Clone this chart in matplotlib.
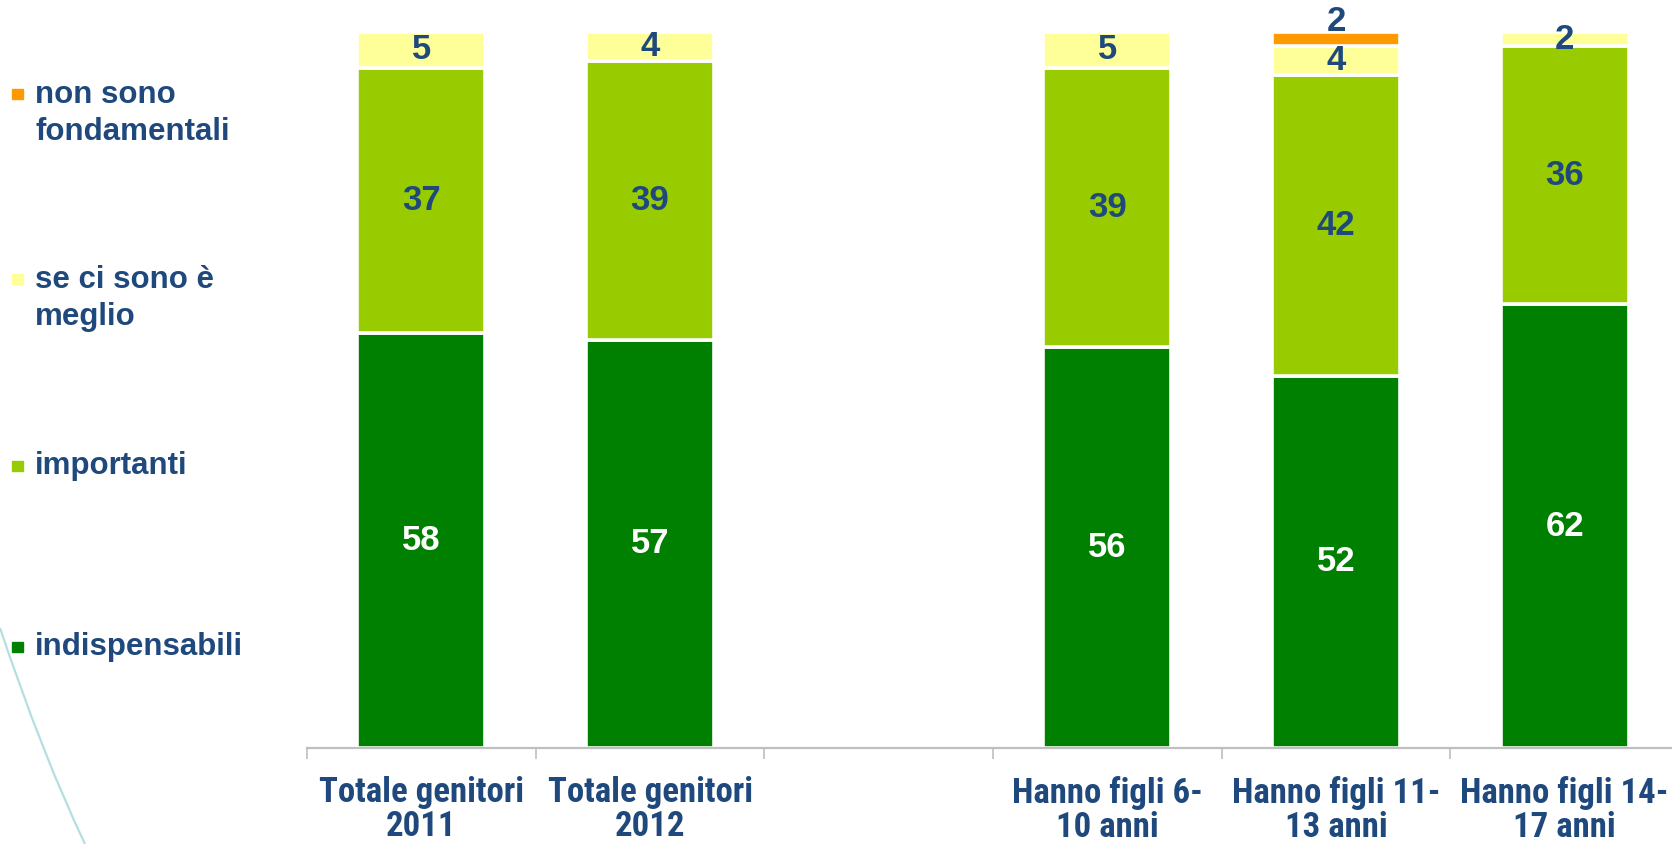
import numpy as np
import matplotlib
matplotlib.use("Agg")
import matplotlib.pyplot as plt
from matplotlib import font_manager
from matplotlib.patches import Rectangle, PathPatch
from matplotlib.path import Path

# categories (the blank entry is the gap between the two groups)
categories = ["Totale genitori\n2011", "Totale genitori\n2012", "",
              "Hanno figli 6-\n10 anni", "Hanno figli 11-\n13 anni", "Hanno figli 14-\n17 anni"]
indispensabili = [58, 57, None, 56, 52, 62]
importanti = [37, 39, None, 39, 42, 36]
meglio = [5, 4, None, 5, 4, 2]
non_fondamentali = [None, None, None, None, 2, None]

series_names = ["indispensabili", "importanti", "se ci sono è\nmeglio", "non sono\nfondamentali"]
series_values = [indispensabili, importanti, meglio, non_fondamentali]
series_colors = ["#008000", "#99CC00", "#FFFF99", "#FF9900"]
label_colors = ["white", "#1F497D", "#1F497D", "#1F497D"]

TEXT = "#1F497D"
W, H = 1672, 844

installed = {f.name for f in font_manager.fontManager.ttflist}
narrow = next((n for n in ["Liberation Sans Narrow", "Arial Narrow", "Roboto Condensed",
                           "PT Sans Narrow", "Archivo Narrow", "Barlow Semi Condensed"]
               if n in installed), "Liberation Sans")

plt.rcParams["font.family"] = ["Liberation Sans", "DejaVu Sans"]

fig = plt.figure(figsize=(W / 100, H / 100), dpi=100)
ax = fig.add_axes([307 / W, (H - 748) / H, 1372 / W, 716 / H])

x = np.arange(len(categories))
bottom = np.zeros(len(categories))
for name, vals, col, lcol in zip(series_names, series_values, series_colors, label_colors):
    v = np.array([np.nan if a is None else a for a in vals], dtype=float)
    ax.bar(x, v, 0.56, bottom=bottom, color=col, edgecolor="white", linewidth=2.6, zorder=2)
    for xi, vi, bi in zip(x, v, bottom):
        if np.isnan(vi):
            continue
        if col == "#FF9900":
            # tiny top segment: label sits right above it
            ax.text(xi, bi + vi + 0.1, f"{vi:g}", ha="center", va="baseline",
                    fontsize=25, fontweight="bold", color=lcol, zorder=3)
        else:
            ax.text(xi, bi + vi / 2, f"{vi:g}", ha="center", va="center",
                    fontsize=25, fontweight="bold", color=lcol, zorder=3)
    bottom = bottom + np.nan_to_num(v)

ax.set_xlim(-0.5, len(categories) - 0.5)
ax.set_ylim(0, 100)
for s in ["top", "right", "left"]:
    ax.spines[s].set_visible(False)
ax.spines["bottom"].set_color("#BFBFBF")
ax.spines["bottom"].set_linewidth(1.6)
ax.set_yticks([])

# boundary ticks between categories, labels centered under bars
ax.set_xticks(np.arange(len(categories) + 1) - 0.5)
ax.set_xticklabels([])
ax.tick_params(axis="x", which="major", length=8, width=1.2, color="#BFBFBF")
ax.set_xticks(x, minor=True)
ax.set_xticklabels(categories, minor=True)
ax.tick_params(axis="x", which="minor", length=0, pad=20)
for lab in ax.get_xticklabels(minor=True):
    lab.set_fontfamily([narrow, "DejaVu Sans"])
    lab.set_fontsize(25)
    lab.set_fontweight("bold")
    lab.set_color(TEXT)
    lab.set_linespacing(1.05)

# legend, drawn by hand on the left (y = first-line centre, pixels from top)
legend_y = [647, 466, 279, 94]
for name, col, yc in zip(series_names, series_colors, legend_y):
    fig.patches.append(Rectangle((12 / W, (H - yc - 5) / H), 11 / W, 10 / H,
                                 color=col, transform=fig.transFigure, figure=fig))
    last_base = yc + 8 + 38 * name.count("\n")
    fig.text(35 / W, (H - last_base) / H, name, ha="left", va="baseline",
             fontsize=22.5, fontweight="bold", color=TEXT, linespacing=1.32)

# decorative arc in the lower left corner
pts = [(0, 628), (43.5, 757.5), (85, 844)]
verts = [(px / W, (H - py) / H) for px, py in pts]
arc = PathPatch(Path(verts, [Path.MOVETO, Path.CURVE3, Path.CURVE3]),
                fill=False, edgecolor="#B4DFE2", linewidth=1.6, transform=fig.transFigure)
fig.patches.append(arc)

fig.savefig("out.png", dpi=100)
